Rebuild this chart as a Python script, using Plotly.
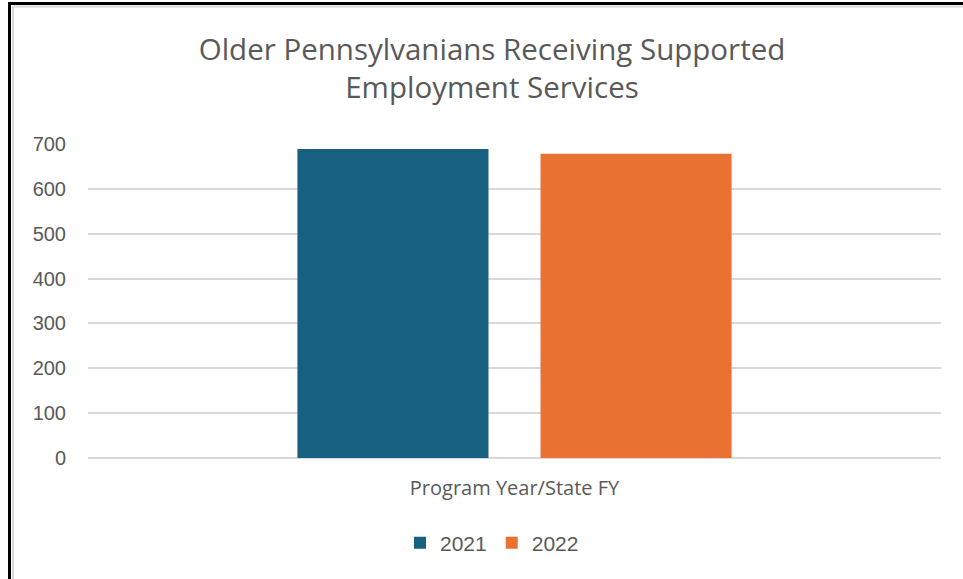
import plotly.graph_objects as go

categories = ["Program Year/State FY"]
series_names = ["2021", "2022"]
values_2021 = [689]
values_2022 = [678]
y_ticks = [0, 100, 200, 300, 400, 500, 600, 700]
colors = ["#17607F", "#E97132"]

W, H = 963, 579
# plot area edges in window pixels
L, R, T, B = 88, 941, 144, 458


def px(x):
    return (x - L) / (R - L)


def py(y):
    return (B - y) / (B - T)


fig = go.Figure()
for name, vals, c in zip(series_names, [values_2021, values_2022], colors):
    fig.add_trace(go.Bar(x=categories, y=vals, name=name, marker=dict(color=c, line=dict(width=0))))

shapes = [
    dict(type="line", xref="paper", yref="paper", x0=px(8), x1=px(970), y0=py(3.5), y1=py(3.5),
         line=dict(color="black", width=3)),
    dict(type="line", xref="paper", yref="paper", x0=px(9.5), x1=px(9.5), y0=py(2), y1=py(590),
         line=dict(color="black", width=3)),
    dict(type="line", xref="paper", yref="paper", x0=px(12), x1=px(970), y0=py(6.5), y1=py(6.5),
         line=dict(color="#D9D9D9", width=2)),
    dict(type="line", xref="paper", yref="paper", x0=px(13), x1=px(13), y0=py(6), y1=py(590),
         line=dict(color="#D9D9D9", width=2)),
]

fig.update_layout(
    width=W, height=H,
    margin=dict(l=L, r=W - R, t=T, b=H - B, pad=0),
    paper_bgcolor="white", plot_bgcolor="white",
    barmode="group", bargap=0.43, bargroupgap=0.214,
    title=dict(text="Older Pennsylvanians Receiving Supported<br>Employment Services",
               x=492 / W, xanchor="center", y=1 - 60 / H, yanchor="middle",
               font=dict(family="Open Sans", size=29.5, color="#595959")),
    font=dict(family="Liberation Sans", color="#595959"),
    showlegend=True,
    legend=dict(orientation="h", x=px(492), xanchor="center", y=py(543), yanchor="middle",
                font=dict(family="Liberation Sans", size=21, color="#595959"),
                itemwidth=30, traceorder="normal"),
    shapes=shapes,
)
fig.update_xaxes(showgrid=False, showline=False, ticks="", showticklabels=False,
                 title=dict(text="Program Year/State FY", standoff=22,
                            font=dict(family="Open Sans", size=20, color="#595959")))
fig.update_yaxes(range=[0, 700], tickvals=y_ticks, showgrid=True, gridcolor="#D9D9D9", gridwidth=1.5,
                 zeroline=True, zerolinecolor="#D9D9D9", zerolinewidth=1.5, showline=False,
                 ticklabelstandoff=21, tickfont=dict(family="Liberation Sans", size=20, color="#595959"))

fig.write_html("out.html", config={"displayModeBar": False},
               post_script="document.body.style.margin='0';")
